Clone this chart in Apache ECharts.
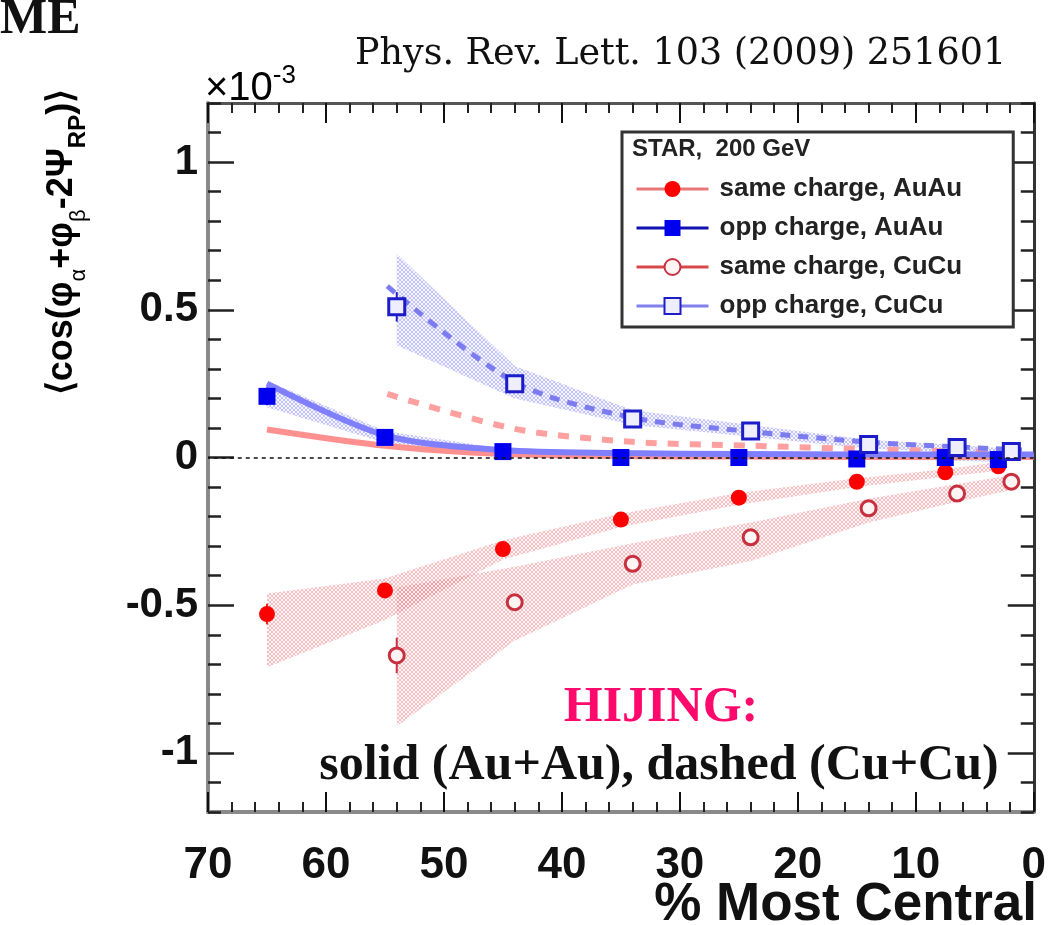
<!DOCTYPE html>
<html>
<head>
<meta charset="utf-8">
<script src="https://cdn.jsdelivr.net/npm/echarts@6/dist/echarts.min.js"></script>
<style>
html, body { margin: 0; background: #fff; }
#chart { width: 1049px; height: 925px; }
</style>
</head>
<body>
<div id="chart"></div>
<script>
// centrality bins (% most central)
const xAuAu = [65, 55, 45, 35, 25, 15, 7.5, 3]
const xCuCu = [54, 44, 34, 24, 14, 6.5, 1.9]

// STAR data, units of 1e-3
const sameAuAu = [-0.53, -0.45, -0.31, -0.21, -0.136, -0.082, -0.05, -0.03]
const oppAuAu = [0.207, 0.068, 0.02, 0.0, 0.0, -0.005, 0.0, -0.007]
const sameCuCu = [-0.67, -0.49, -0.36, -0.27, -0.172, -0.122, -0.082]
const oppCuCu = [0.51, 0.25, 0.13, 0.09, 0.044, 0.034, 0.02]

// stat errors
const errSameAuAu = [0.035, 0.015, 0.01, 0.01, 0.008, 0.006, 0.005, 0.005]
const errOppAuAu = [0.03, 0.012, 0.01, 0.008, 0.006, 0.005, 0.005, 0.005]
const errSameCuCu = [0.06, 0.025, 0.015, 0.012, 0.01, 0.008, 0.008]
const errOppCuCu = [0.05, 0.022, 0.014, 0.01, 0.008, 0.007, 0.007]

// systematic bands
const bandSameAuAuLo = [-0.71, -0.55, -0.345, -0.235, -0.16, -0.1, -0.065, -0.045]
const bandSameAuAuHi = [-0.46, -0.41, -0.28, -0.19, -0.12, -0.07, -0.04, -0.015]
const bandOppAuAuLo = [0.17, 0.05, 0.01, -0.005, -0.005, -0.008, -0.01, -0.015]
const bandOppAuAuHi = [0.26, 0.09, 0.03, 0.012, 0.01, 0.008, 0.006, 0.004]
const bandSameCuCuLo = [-0.91, -0.62, -0.43, -0.35, -0.22, -0.15, -0.11]
const bandSameCuCuHi = [-0.44, -0.37, -0.29, -0.22, -0.14, -0.09, -0.06]
const bandOppCuCuLo = [0.38, 0.2, 0.11, 0.07, 0.03, 0.018, 0.01]
const bandOppCuCuHi = [0.69, 0.31, 0.16, 0.11, 0.06, 0.042, 0.03]

// HIJING curves
const hijXAu = [65, 55, 45, 35, 25, 15, 7.5, 2.5, 0]
const hijSameAu = [0.095, 0.04, 0.012, 0.005, 0.003, 0.002, 0.002, 0.002, 0.002]
const hijOppAu = [0.25, 0.075, 0.025, 0.015, 0.012, 0.01, 0.01, 0.01, 0.01]
const hijXCu = [54.8, 44, 34, 24, 14, 6.5, 2, 1]
const hijSameCu = [0.215, 0.097, 0.053, 0.04, 0.028, 0.021, 0.018, 0.018]
const hijOppCu = [0.58, 0.255, 0.135, 0.088, 0.052, 0.036, 0.027, 0.025]

const yMajor = [-1, -0.5, 0, 0.5, 1]

function hatch(dot, bg) {
    const c = document.createElement('canvas')
    c.width = 4
    c.height = 4
    const g = c.getContext('2d')
    g.fillStyle = bg
    g.fillRect(0, 0, 4, 4)
    g.fillStyle = dot
    for (let i = 0; i < 4; i++) {
        g.fillRect(i, i, 1, 1)
        g.fillRect(3 - i, i, 1, 1)
    }
    return { image: c, repeat: 'repeat' }
}
const redFill = hatch('rgba(225,110,120,0.4)', 'rgba(255,205,205,0.2)')
const blueFill = hatch('rgba(120,120,235,0.4)', 'rgba(205,205,255,0.2)')

function pairs(xs, ys) {
    return xs.map((x, i) => [x, ys[i]])
}

function band(xs, lo, hi, fill, extra) {
    return Object.assign({
        type: 'custom',
        silent: true,
        z: 1,
        clip: true,
        data: xs.map((x, i) => [x, lo[i], hi[i]]),
        encode: { x: 0, y: [1, 2] },
        renderItem(params, api) {
            if (params.dataIndex !== 0) return null
            const top = xs.map((x, i) => api.coord([x, hi[i]]))
            const bot = xs.map((x, i) => api.coord([x, lo[i]])).reverse()
            return { type: 'polygon', shape: { points: top.concat(bot) }, style: { fill } }
        },
    }, extra || {})
}

function errBars(xs, ys, es, color) {
    return {
        type: 'custom',
        silent: true,
        z: 3,
        data: xs.map((x, i) => [x, ys[i] - es[i], ys[i] + es[i]]),
        encode: { x: 0, y: [1, 2] },
        renderItem(params, api) {
            const a = api.coord([api.value(0), api.value(1)])
            const b = api.coord([api.value(0), api.value(2)])
            return { type: 'line', shape: { x1: a[0], y1: a[1], x2: b[0], y2: b[1] }, style: { stroke: color, lineWidth: 2 } }
        },
    }
}

function hijing(xs, ys, color, width, dash) {
    return {
        type: 'line', z: 2, silent: true, showSymbol: false, smooth: 0.3,
        data: pairs(xs, ys),
        lineStyle: { color, width, type: dash || 'solid', cap: 'butt' },
    }
}

function points(name, xs, ys, symbol, size, itemStyle) {
    return {
        name, type: 'line', z: 4, silent: true,
        data: pairs(xs, ys),
        symbol, symbolSize: size, showSymbol: true, showAllSymbol: true,
        lineStyle: { opacity: 0 },
        itemStyle,
    }
}

const xAxisBase = {
    type: 'value', min: 0, max: 70, interval: 10, inverse: true,
    splitLine: { show: false },
    axisTick: { inside: true, length: 20, lineStyle: { color: '#111', width: 2 } },
    minorTick: { show: true, splitNumber: 5, length: 10, lineStyle: { color: '#222', width: 2 } },
}
const yMinorBase = {
    type: 'value', min: -1.2, max: 1.2, interval: 0.1,
    splitLine: { show: false },
    axisTick: { inside: true, length: 13, lineStyle: { color: '#222', width: 2.5 } },
}
const yMajorBase = {
    type: 'value', min: -1.2, max: 1.2, interval: 0.1,
    splitLine: { show: false },
    axisLine: { show: false, onZero: false },
    axisLabel: { show: false },
    axisTick: { inside: true, length: 26, customValues: yMajor, lineStyle: { color: '#222', width: 2.5 } },
}

const chart = echarts.init(document.getElementById('chart'))
chart.setOption({
    animation: false,
    backgroundColor: '#fff',
    grid: { left: 208, right: 12, top: 103, bottom: 113 },
    xAxis: [
        Object.assign({}, xAxisBase, {
            position: 'bottom',
            axisLine: { onZero: false, lineStyle: { color: '#8a8a8a', width: 4 } },
            axisLabel: { margin: 32, color: '#111', fontFamily: 'Liberation Sans', fontWeight: 'bold', fontSize: 44 },
        }),
        Object.assign({}, xAxisBase, {
            position: 'top',
            axisLine: { onZero: false, lineStyle: { color: '#555', width: 3 } },
            axisLabel: { show: false },
        }),
    ],
    yAxis: [
        Object.assign({}, yMinorBase, {
            position: 'left',
            axisLine: { onZero: false, lineStyle: { color: '#8a8a8a', width: 4 } },
            axisLabel: { customValues: yMajor, margin: 10, color: '#111', fontFamily: 'Liberation Sans', fontWeight: 'bold', fontSize: 42 },
        }),
        Object.assign({}, yMajorBase, { position: 'left' }),
        Object.assign({}, yMinorBase, {
            position: 'right',
            axisLine: { onZero: false, lineStyle: { color: '#333', width: 3 } },
            axisLabel: { show: false },
        }),
        Object.assign({}, yMajorBase, { position: 'right' }),
    ],
    legend: {
        orient: 'vertical',
        left: 622, top: 132,
        padding: [44, 51, 8, 13],
        itemWidth: 72, itemHeight: 20, itemGap: 13,
        backgroundColor: '#fff',
        borderColor: '#333', borderWidth: 3, borderRadius: 0,
        textStyle: { fontFamily: 'Liberation Sans', fontWeight: 'bold', fontSize: 26, lineHeight: 20, color: '#222', padding: [0, 0, 0, 6] },
        data: [
            { name: 'same charge, AuAu', lineStyle: { color: '#e87878', width: 3, opacity: 1 } },
            { name: 'opp charge, AuAu', lineStyle: { color: '#1010b0', width: 3, opacity: 1 } },
            { name: 'same charge, CuCu', lineStyle: { color: '#d84848', width: 3, opacity: 1 } },
            { name: 'opp charge, CuCu', lineStyle: { color: '#8080ee', width: 3, opacity: 1 } },
        ],
    },
    series: [
        band(xCuCu, bandSameCuCuLo, bandSameCuCuHi, redFill, {
            markLine: {
                silent: true, symbol: 'none', label: { show: false },
                lineStyle: { color: '#111', type: [4, 4], width: 1.5 },
                data: [{ yAxis: 0 }],
            },
        }),
        band(xAuAu, bandSameAuAuLo, bandSameAuAuHi, redFill),
        band(xCuCu, bandOppCuCuLo, bandOppCuCuHi, blueFill),
        band(xAuAu, bandOppAuAuLo, bandOppAuAuHi, blueFill),
        hijing(hijXCu, hijSameCu, '#ffa0a0', 6, [11, 11]),
        hijing(hijXCu, hijOppCu, '#7c7cf0', 5, [10, 8]),
        hijing(hijXAu, hijSameAu, '#ff9090', 6),
        hijing(hijXAu, hijOppAu, '#7f7fff', 6),
        errBars(xAuAu, sameAuAu, errSameAuAu, '#ff2020'),
        errBars(xAuAu, oppAuAu, errOppAuAu, '#0000ee'),
        errBars(xCuCu, sameCuCu, errSameCuCu, '#cc3040'),
        errBars(xCuCu, oppCuCu, errOppCuCu, '#2020cc'),
        points('same charge, AuAu', xAuAu, sameAuAu, 'circle', 16, { color: '#ff0000' }),
        points('opp charge, AuAu', xAuAu, oppAuAu, 'rect', 17, { color: '#0000ee' }),
        points('same charge, CuCu', xCuCu, sameCuCu, 'circle', 15, { color: '#fff4f4', borderColor: '#c83040', borderWidth: 3 }),
        points('opp charge, CuCu', xCuCu, oppCuCu, 'rect', 16, { color: '#eeeeff', borderColor: '#1c1cc8', borderWidth: 3 }),
    ],
    graphic: [
        { type: 'text', z: 100, x: 0, y: 20, style: { text: 'ME', font: 'bold 50px "Liberation Serif"', fill: '#111', verticalAlign: 'middle' } },
        { type: 'text', z: 100, x: 355, y: 55, style: { text: 'Phys. Rev. Lett. 103 (2009) 251601', font: '36.5px "DejaVu Serif"', fill: '#111', verticalAlign: 'middle' } },
        {
            type: 'text', z: 100, x: 205, y: 86,
            style: {
                text: '{m|×10}{s|-3}',
                verticalAlign: 'middle',
                rich: {
                    m: { fontFamily: 'Liberation Sans', fontSize: 40, color: '#111', lineHeight: 46, verticalAlign: 'bottom' },
                    s: { fontFamily: 'Liberation Sans', fontSize: 26, color: '#111', lineHeight: 26, verticalAlign: 'top' },
                },
            },
        },
        {
            type: 'text', z: 100, x: 62, y: 242, rotation: Math.PI / 2,
            style: {
                text: '{m|⟨cos(φ}{s|α}{m|+φ}{s|β}{m|-2Ψ}{r|RP}{m|)⟩}',
                align: 'center', verticalAlign: 'middle',
                rich: {
                    m: { fontFamily: 'Liberation Sans', fontWeight: 'bold', fontSize: 36, color: '#111', lineHeight: 56, verticalAlign: 'middle' },
                    s: { fontFamily: 'Liberation Sans', fontSize: 22, color: '#222', lineHeight: 24, verticalAlign: 'bottom' },
                    r: { fontFamily: 'Liberation Sans', fontWeight: 'bold', fontSize: 24, color: '#111', lineHeight: 26, verticalAlign: 'bottom' },
                },
            },
        },
        { type: 'text', z: 100, x: 661, y: 708, style: { text: 'HIJING:', font: 'bold 50px "Liberation Serif"', fill: '#ff0a6c', align: 'center', verticalAlign: 'middle' } },
        { type: 'text', z: 100, x: 659, y: 766, style: { text: 'solid (Au+Au), dashed (Cu+Cu)', font: 'bold 50px "Liberation Serif"', fill: '#111', align: 'center', verticalAlign: 'middle' } },
        { type: 'text', z: 100, x: 632, y: 149, style: { text: 'STAR,  200 GeV', font: 'bold 24px "Liberation Sans"', fill: '#222', verticalAlign: 'middle' } },
        { type: 'text', z: 100, x: 1037, y: 905, style: { text: '% Most Central', font: 'bold 53px "Liberation Sans"', fill: '#111', align: 'right', verticalAlign: 'middle' } },
    ],
})
</script>
</body>
</html>
